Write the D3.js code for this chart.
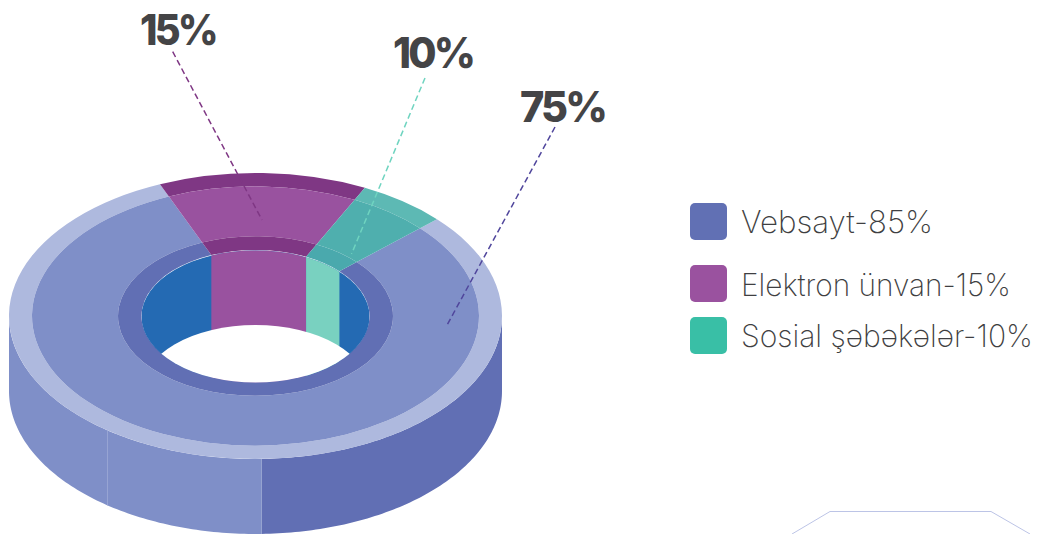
<!DOCTYPE html>
<html><head><meta charset="utf-8">
<script src="https://cdn.jsdelivr.net/npm/d3@7"></script>
<style>html,body{margin:0;padding:0;background:#fff}svg{display:block}text{font-family:Inter,"Noto Sans",sans-serif}</style>
</head><body><svg id="c" width="1039" height="534"></svg>
<script>
// Chart content
const sliceNames = ["Elektron ünvan", "Sosial şəbəkələr", "Vebsayt"];
const drawnShares = [13.65, 5.85, 80.5];       // visible slice sizes, clockwise from the left edge of magenta
const calloutLabels = ["15%", "10%", "75%"];
const legendLabels = ["Vebsayt-85%", "Elektron ünvan-15%", "Sosial şəbəkələr-10%"];
const legendColors = ["#6170b4", "#9a529f", "#39bfa6"];
const faceColors = ["#99529f", "#4fafae", "#7f8fc8"];
const rimColors = ["#7f3784", "#5db9b4", "#aeb9de"];
const ringColors = ["#7f3784", "#4aa9ad", "#616fb4"];
const wallColors = ["#99529f", "#79d1c0", "#246ab3"];
const calloutColors = ["#7f3784", "#6fd4c0", "#50469c"];

const svg = d3.select("#c");
const cx = 255.5, cy = 316, depth = 75, squash = 0.58;
const R = {outer: 246.5, rim: 223.5, ring: 137.5, hole: 114};
const startDeg = -22.8;
const pie = d3.pie().sort(null).value(d => d).startAngle(startDeg * Math.PI / 180).endAngle((startDeg + 360) * Math.PI / 180);
const slices = pie(drawnShares);
const arc = (r0, r1) => d3.arc().innerRadius(r0).outerRadius(r1);
const tf = (dy = 0) => `translate(${cx},${cy + dy}) scale(1,${squash})`;

// Places a text so that it spans exactly the given width, by a horizontal scale
const fitText = (sel, x, y, width) => {
  const natural = sel.node().getComputedTextLength();
  sel.attr("transform", `translate(${x},${y}) scale(${width / natural},1)`);
};

// outer wall
const wallLine = (a0, a1, r) => {
  const n = 90, pts = [];
  d3.range(n + 1).forEach(i => {
    const a = a0 + (a1 - a0) * i / n;
    pts.push([cx + r * Math.sin(a), cy - r * squash * Math.cos(a)]);
  });
  const low = pts.map(p => [p[0], p[1] + depth]).reverse();
  return d3.line()(pts.concat(low)) + "Z";
};
const splitLight = Math.PI - Math.asin(6 / R.outer);   // shade change near the front
const seamLight = Math.PI + Math.asin(148 / R.outer);  // thin seam on the left
svg.append("path").attr("d", wallLine(Math.PI / 2, splitLight, R.outer)).attr("fill", "#616fb4");
svg.append("path").attr("d", wallLine(splitLight, 3 * Math.PI / 2, R.outer)).attr("fill", "#7f8fc8");
const seamX = cx + R.outer * Math.sin(seamLight), seamTop = cy - R.outer * squash * Math.cos(seamLight);
svg.append("line").attr("x1", seamX).attr("x2", seamX).attr("y1", seamTop).attr("y2", seamTop + depth)
  .attr("stroke", "#97a4d3").attr("stroke-width", 1);

// top face layers
const drawOrder = [2, 0, 1];
drawOrder.forEach(i => {
  const s = slices[i];
  svg.append("path").attr("transform", tf()).attr("d", arc(R.rim, R.outer)(s)).attr("fill", rimColors[i]);
  svg.append("path").attr("transform", tf()).attr("d", arc(R.ring, R.rim)(s)).attr("fill", faceColors[i]);
  svg.append("path").attr("transform", tf()).attr("d", arc(R.hole, R.ring)(s)).attr("fill", ringColors[i]);
});

// hole: inner wall columns clipped to hole ellipse, then see-through white
const defs = svg.append("defs");
defs.append("clipPath").attr("id", "holeClip").append("ellipse")
  .attr("cx", cx).attr("cy", cy + 0.5).attr("rx", R.hole).attr("ry", R.hole * squash);
const holeG = svg.append("g").attr("clip-path", "url(#holeClip)");
const holeBox = {x: cx - R.hole, w: 2 * R.hole, y: cy - R.hole * squash, h: 2 * R.hole * squash + 1};
holeG.append("rect").attr("x", holeBox.x).attr("y", holeBox.y).attr("width", holeBox.w).attr("height", holeBox.h).attr("fill", wallColors[2]);
[0, 1].forEach(i => {
  const s = slices[i];
  const x0 = cx + R.hole * Math.sin(s.startAngle), x1 = cx + R.hole * Math.sin(s.endAngle);
  holeG.append("rect").attr("x", x0).attr("y", holeBox.y).attr("width", x1 - x0).attr("height", holeBox.h).attr("fill", wallColors[i]);
});
holeG.append("ellipse").attr("cx", cx).attr("cy", cy + depth).attr("rx", R.hole).attr("ry", R.hole * squash).attr("fill", "#fff");

// callouts
const calloutLines = [[[172.7, 51.7], [262, 220]], [[425, 78], [351.5, 254]], [[555, 127], [446, 327]]];
const calloutX = [140, 393, 520];
const calloutBase = [45, 68, 122];
const calloutWidth = [76, 80, 85];
calloutLines.forEach((l, i) => {
  svg.append("path").attr("d", d3.line()(l)).attr("fill", "none").attr("stroke", calloutColors[i])
    .attr("stroke-width", 1.5).attr("stroke-dasharray", "6 3.5");
  const t = svg.append("text").attr("font-size", 43).attr("font-weight", 800).attr("letter-spacing", -3)
    .attr("fill", "#444446").text(calloutLabels[i]);
  fitText(t, calloutX[i], calloutBase[i], calloutWidth[i]);
});

// legend
const legendY = [203, 265, 317];
const legendBase = [232.7, 296, 347.3];
const legendWidth = [192, 270, 292];
legendLabels.forEach((s, i) => {
  svg.append("rect").attr("x", 690).attr("y", legendY[i]).attr("width", 37).attr("height", 37).attr("rx", 5).attr("fill", legendColors[i]);
  const t = svg.append("text").attr("font-size", 31).attr("font-weight", 200).attr("fill", "#3f3f42").text(s);
  fitText(t, 741, legendBase[i], legendWidth[i]);
});

// decoration at the bottom right
svg.append("path").attr("d", d3.line()([[792, 534], [830, 511.5], [991, 511.5], [1030, 534]]))
  .attr("fill", "none").attr("stroke", "#bcc4e6").attr("stroke-width", 1);
</script></body></html>
